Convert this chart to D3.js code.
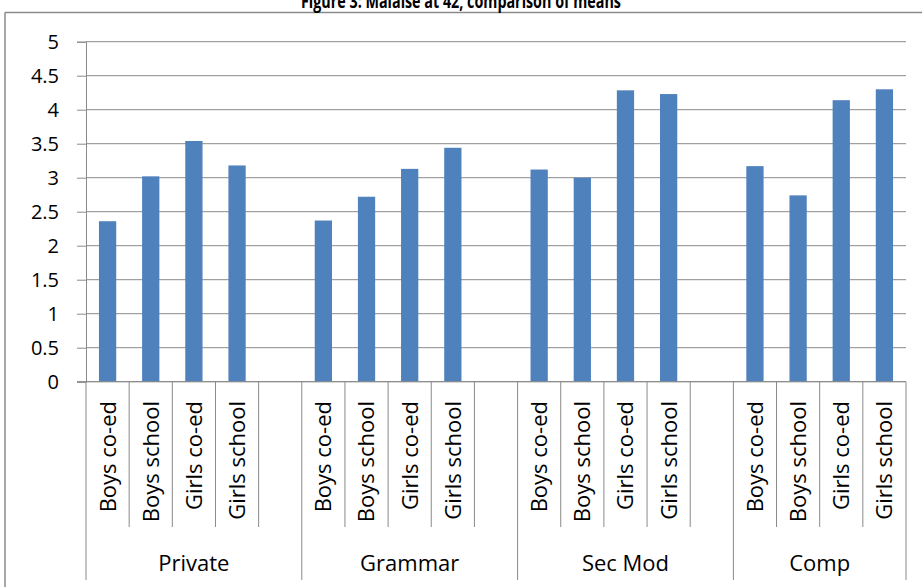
<!DOCTYPE html>
<html>
<head>
<meta charset="utf-8">
<script src="https://cdn.jsdelivr.net/npm/d3@7"></script>
<style>
  html, body { margin: 0; padding: 0; background: #fff; }
  svg { display: block; }
  text { font-family: "Open Sans", "DejaVu Sans", sans-serif; fill: #000; }
</style>
</head>
<body>
<svg id="chart" width="922" height="587"></svg>
<script>
// ---- data ----
const title = "Figure 3: Malaise at 42, comparison of means";
const groups = ["Private", "Grammar", "Sec Mod", "Comp"];
const categories = ["Boys co-ed", "Boys school", "Girls co-ed", "Girls school"];
const privateVals = [2.36, 3.02, 3.54, 3.18];
const grammarVals = [2.37, 2.72, 3.13, 3.44];
const secModVals  = [3.12, 3.00, 4.285, 4.23];
const compVals    = [3.17, 2.74, 4.14, 4.30];
const yTicks = [0, 0.5, 1, 1.5, 2, 2.5, 3, 3.5, 4, 4.5, 5];

const seriesByGroup = [privateVals, grammarVals, secModVals, compVals];

// slots: 4 categories per group, with a blank slot between groups
const slots = [];
groups.forEach((g, gi) => {
  categories.forEach((c, ci) => slots.push({ key: g + "|" + c, group: g, cat: c, value: seriesByGroup[gi][ci] }));
  if (gi < groups.length - 1) slots.push({ key: g + "|blank", group: g, cat: null, value: null });
});

const svg = d3.select("#chart");
const W = 922, H = 587;
const gray = "#8a8a8a";

// outer chart border (cropped at top/right/bottom)
svg.append("line").attr("x1", 5).attr("x2", W).attr("y1", 12.5).attr("y2", 12.5)
  .attr("stroke", gray).attr("stroke-width", 1.5);
svg.append("line").attr("x1", 5).attr("x2", 5).attr("y1", 12.5).attr("y2", H)
  .attr("stroke", gray).attr("stroke-width", 1.5);

// title (partly cut off at the top, as in the reference)
svg.append("text").attr("x", 461).attr("y", 7.5)
  .attr("text-anchor", "middle").attr("font-weight", "bold").attr("font-size", 19)
  .attr("textLength", 320).attr("lengthAdjust", "spacingAndGlyphs")
  .text(title);

// scales
const x = d3.scaleBand().domain(slots.map(d => d.key)).range([86, 906]).paddingInner(0).paddingOuter(0);
const y = d3.scaleLinear().domain([0, 5]).range([381.7, 41.7]);
const bw = x.bandwidth();

// gridlines + y ticks
const yAxis = d3.axisLeft(y).tickValues(yTicks).tickSize(9).tickPadding(18)
  .tickFormat(d => d3.format("")(d));
const ya = svg.append("g").attr("transform", "translate(86,0)").call(yAxis);
ya.select(".domain").attr("stroke", gray);
ya.selectAll(".tick line").attr("stroke", gray);
ya.selectAll(".tick text").attr("font-size", 20).attr("font-family", "Open Sans").attr("fill", "#000");

svg.append("g").selectAll("line").data(yTicks).join("line")
  .attr("x1", 86).attr("x2", 906)
  .attr("y1", d => y(d)).attr("y2", d => y(d))
  .attr("stroke", gray).attr("stroke-width", 1);

// bars
svg.append("g").selectAll("rect").data(slots.filter(d => d.value != null)).join("rect")
  .attr("x", d => x(d.key) + bw * 0.3)
  .attr("width", bw * 0.4)
  .attr("y", d => y(d.value))
  .attr("height", d => y(0) - y(d.value))
  .attr("fill", "#4F81BD");

// x axis baseline
svg.append("line").attr("x1", 77).attr("x2", 906).attr("y1", y(0)).attr("y2", y(0))
  .attr("stroke", gray);

// category separators
const catEdges = [];
slots.forEach(d => {
  if (d.cat != null) {
    catEdges.push(x(d.key));
    catEdges.push(x(d.key) + bw);
  }
});
const groupEdges = [86];
slots.forEach(d => { if (d.cat == null) groupEdges.push(x(d.key) + bw); });
groupEdges.push(906);
const uniqCat = Array.from(new Set(catEdges.map(v => v.toFixed(2)))).map(Number)
  .filter(v => !groupEdges.some(g => Math.abs(g - v) < 0.5));

svg.append("g").selectAll("line").data(uniqCat).join("line")
  .attr("x1", d => d).attr("x2", d => d).attr("y1", y(0)).attr("y2", 527)
  .attr("stroke", gray);
svg.append("g").selectAll("line").data(groupEdges).join("line")
  .attr("x1", d => d).attr("x2", d => d).attr("y1", y(0)).attr("y2", 580)
  .attr("stroke", gray);

// category labels (rotated)
svg.append("g").selectAll("text").data(slots.filter(d => d.cat != null)).join("text")
  .attr("transform", d => `translate(${x(d.key) + bw / 2},401) rotate(-90)`)
  .attr("text-anchor", "end").attr("dy", "0.36em")
  .attr("font-size", 22)
  .text(d => d.cat);

// group labels
groups.forEach((g, gi) => {
  const gSlots = slots.filter(d => d.group === g);
  const x0 = x(gSlots[0].key), x1 = x(gSlots[gSlots.length - 1].key) + bw;
  svg.append("text").attr("x", (x0 + x1) / 2).attr("y", 570.7)
    .attr("text-anchor", "middle").attr("font-size", 22).text(g);
});
</script>
</body>
</html>
